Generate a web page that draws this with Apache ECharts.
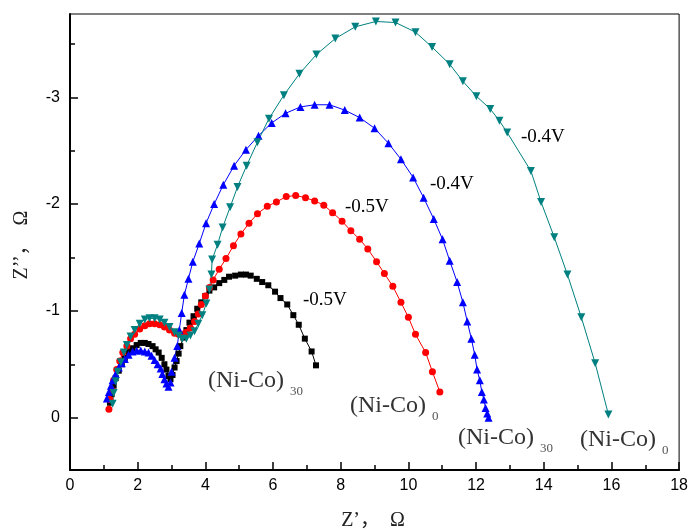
<!DOCTYPE html>
<html>
<head>
<meta charset="utf-8">
<script src="https://cdn.jsdelivr.net/npm/echarts@6/dist/echarts.min.js"></script>
<style>html,body{margin:0;padding:0;background:#fff}#c{width:691px;height:532px}</style>
</head>
<body>
<div id="c"></div>
<script>
// (Ni-Co)30 at -0.5V  (black squares)  [Z', Z'']
const niCo30_m05 = [[1.18,-0.14],[1.23,-0.22],[1.29,-0.30],[1.35,-0.37],[1.44,-0.44],[1.53,-0.50],[1.62,-0.56],[1.73,-0.62],[1.85,-0.65],[1.97,-0.68],[2.09,-0.70],[2.21,-0.70],[2.32,-0.69],[2.44,-0.67],[2.53,-0.64],[2.62,-0.61],[2.71,-0.56],[2.79,-0.50],[2.85,-0.45],[2.91,-0.39],[2.97,-0.36],[3.03,-0.40],[3.09,-0.47],[3.15,-0.53],[3.21,-0.60],[3.26,-0.67],[3.35,-0.75],[3.44,-0.82],[3.53,-0.89],[3.65,-0.95],[3.76,-1.02],[3.88,-1.08],[4.00,-1.14],[4.12,-1.19],[4.26,-1.22],[4.41,-1.26],[4.56,-1.29],[4.70,-1.32],[4.88,-1.33],[5.05,-1.34],[5.20,-1.34],[5.34,-1.33],[5.52,-1.30],[5.68,-1.27],[5.86,-1.24],[6.06,-1.18],[6.22,-1.12],[6.42,-1.06],[6.60,-0.96],[6.76,-0.87],[6.94,-0.74],[7.14,-0.62],[7.27,-0.49]];
// (Ni-Co)0 at -0.5V (red circles)
const niCo0_m05 = [[1.15,-0.08],[1.18,-0.17],[1.23,-0.26],[1.29,-0.35],[1.38,-0.45],[1.47,-0.53],[1.56,-0.61],[1.68,-0.67],[1.79,-0.74],[1.91,-0.78],[2.06,-0.83],[2.21,-0.86],[2.35,-0.88],[2.50,-0.88],[2.65,-0.87],[2.79,-0.85],[2.94,-0.82],[3.09,-0.79],[3.21,-0.78],[3.32,-0.78],[3.44,-0.80],[3.56,-0.84],[3.68,-0.90],[3.79,-0.97],[3.88,-1.06],[4.00,-1.14],[4.12,-1.22],[4.23,-1.29],[4.41,-1.39],[4.61,-1.49],[4.83,-1.61],[5.05,-1.72],[5.29,-1.82],[5.54,-1.91],[5.83,-1.98],[6.10,-2.02],[6.39,-2.07],[6.67,-2.08],[6.96,-2.06],[7.23,-2.03],[7.50,-1.99],[7.76,-1.92],[8.04,-1.84],[8.30,-1.75],[8.56,-1.67],[8.80,-1.58],[9.06,-1.46],[9.29,-1.35],[9.54,-1.23],[9.78,-1.08],[10.00,-0.94],[10.21,-0.78],[10.51,-0.61],[10.71,-0.43],[10.93,-0.24]];
// (Ni-Co)30 at -0.4V (blue up-triangles)
const niCo30_m04 = [[1.09,-0.18],[1.15,-0.24],[1.21,-0.30],[1.26,-0.35],[1.35,-0.41],[1.44,-0.47],[1.53,-0.51],[1.62,-0.55],[1.73,-0.59],[1.85,-0.62],[1.97,-0.63],[2.09,-0.63],[2.21,-0.62],[2.32,-0.61],[2.41,-0.58],[2.50,-0.54],[2.59,-0.50],[2.68,-0.46],[2.73,-0.41],[2.79,-0.36],[2.85,-0.32],[2.91,-0.29],[2.97,-0.33],[3.00,-0.43],[3.09,-0.56],[3.17,-0.67],[3.23,-0.82],[3.30,-0.98],[3.38,-1.15],[3.50,-1.30],[3.63,-1.46],[3.82,-1.63],[4.02,-1.82],[4.26,-2.00],[4.53,-2.18],[4.85,-2.36],[5.20,-2.51],[5.57,-2.64],[5.96,-2.76],[6.37,-2.85],[6.81,-2.91],[7.23,-2.93],[7.67,-2.93],[8.12,-2.88],[8.56,-2.81],[9.00,-2.71],[9.41,-2.57],[9.78,-2.42],[10.14,-2.25],[10.45,-2.06],[10.75,-1.86],[11.01,-1.67],[11.22,-1.47],[11.44,-1.27],[11.61,-1.08],[11.74,-0.90],[11.86,-0.74],[11.96,-0.59],[12.03,-0.45],[12.11,-0.35],[12.17,-0.24],[12.23,-0.17],[12.28,-0.09],[12.33,-0.04],[12.37,0.00]];
// (Ni-Co)0 at -0.4V (teal down-triangles)
const niCo0_m04 = [[1.26,-0.13],[1.29,-0.23],[1.35,-0.34],[1.41,-0.43],[1.50,-0.52],[1.59,-0.61],[1.68,-0.68],[1.79,-0.76],[1.91,-0.82],[2.06,-0.88],[2.21,-0.92],[2.35,-0.93],[2.50,-0.93],[2.65,-0.92],[2.79,-0.89],[2.94,-0.85],[3.09,-0.80],[3.21,-0.77],[3.32,-0.74],[3.44,-0.74],[3.56,-0.77],[3.68,-0.81],[3.79,-0.88],[3.91,-0.96],[4.03,-1.07],[4.12,-1.20],[4.18,-1.34],[4.20,-1.48],[4.36,-1.62],[4.51,-1.78],[4.73,-1.97],[4.95,-2.16],[5.22,-2.36],[5.54,-2.58],[5.88,-2.80],[6.32,-3.02],[6.78,-3.22],[7.28,-3.40],[7.84,-3.55],[8.43,-3.66],[9.04,-3.71],[9.62,-3.70],[10.21,-3.61],[10.70,-3.47],[11.22,-3.31],[11.61,-3.15],[12.01,-3.01],[12.42,-2.89],[12.69,-2.78],[12.92,-2.67],[13.62,-2.31],[13.92,-2.02],[14.31,-1.69],[14.70,-1.34],[15.11,-0.94],[15.52,-0.51],[15.91,-0.03]];

const xMinor = [1,3,5,7,9,11,13,15,17];
const yMajor = [-3,-2,-1,0];
const yMinor = [-3.5,-2.5,-1.5,-0.5];
const xName = 'Z’，  Ω';
const yName = 'Z’’，  Ω';

const chart = echarts.init(document.getElementById('c'), null, {renderer:'canvas'});
const tickFont = {fontFamily:'Liberation Sans, Arial, sans-serif', fontSize:16, color:'#000'};
const annFont = 'Liberation Serif, Times New Roman, serif';
const niFont = 'Liberation Serif, Noto Sans CJK SC, serif';

function ser(name, data, color, symbol, size, rot){
  return {name, type:'line', data, smooth:false, symbol, symbolSize:size, symbolRotate:rot||0,
    showAllSymbol:true, lineStyle:{color, width:1}, itemStyle:{color, borderWidth:0}, z:2};
}

function ann(text, x, y){
  return {type:'text', x, y, z:100, style:{text, font:'19px '+annFont, fill:'#000', align:'left', verticalAlign:'middle', backgroundColor:'#fff', padding:[0,0,0,2]}};
}
function ni(x, y, sub){
  return [
    {type:'text', x, y, z:100, style:{text:'(Ni-Co)', font:'24px '+niFont, fill:'#333', align:'left', verticalAlign:'middle'}},
    {type:'text', x:x+82, y:y+11, z:100, style:{text:sub, font:'13px '+niFont, fill:'#555', align:'left', verticalAlign:'middle'}}
  ];
}

chart.setOption({
  animation:false,
  backgroundColor:'#fff',
  grid:{left:70, right:9, top:14, bottom:62, containLabel:false, show:true, borderColor:'#000', borderWidth:1, backgroundColor:'transparent'},
  xAxis:[
    {type:'value', min:0, max:18, interval:2, position:'bottom',
      axisLine:{show:true, onZero:false, lineStyle:{color:'#000', width:2}},
      axisTick:{show:true, inside:true, length:8, lineStyle:{color:'#000', width:1.5}},
      axisLabel:Object.assign({margin:8}, tickFont),
      splitLine:{show:false}},
    {type:'value', min:0, max:18, position:'bottom', offset:0,
      axisLine:{show:false, onZero:false},
      axisTick:{show:true, inside:true, length:5, customValues:xMinor, lineStyle:{color:'#000', width:1.5}},
      axisLabel:{show:false},
      splitLine:{show:false}}
  ],
  yAxis:[
    {type:'value', min:-3.78, max:0.49, inverse:true, position:'left',
      axisLine:{show:true, onZero:false, lineStyle:{color:'#000', width:2}},
      axisTick:{show:true, inside:true, length:8, customValues:yMajor, lineStyle:{color:'#000', width:1.5}},
      axisLabel:Object.assign({margin:10, customValues:yMajor}, tickFont),
      splitLine:{show:false}},
    {type:'value', min:-3.78, max:0.49, inverse:true, position:'left', offset:0,
      axisLine:{show:false, onZero:false},
      axisTick:{show:true, inside:true, length:5, customValues:yMinor, lineStyle:{color:'#000', width:1.5}},
      axisLabel:{show:false},
      splitLine:{show:false}}
  ],
  series:[
    ser('(Ni-Co)30 -0.5V', niCo30_m05, '#000000', 'rect', 6),
    ser('(Ni-Co)0 -0.5V', niCo0_m05, '#ff0000', 'circle', 7),
    ser('(Ni-Co)30 -0.4V', niCo30_m04, '#0000ff', 'triangle', 8),
    ser('(Ni-Co)0 -0.4V', niCo0_m04, '#008080', 'triangle', 8, 180)
  ],
  graphic:[
    {type:'text', x:373, y:521, z:100, style:{text:xName, font:'20px '+niFont, fill:'#222', align:'center', verticalAlign:'middle'}},
    {type:'text', x:22, y:245, rotation:Math.PI/2, z:100, style:{text:yName, font:'20px '+niFont, fill:'#222', align:'center', verticalAlign:'middle'}},
    ann('-0.5V', 301, 300),
    ann('-0.5V', 343, 207),
    ann('-0.4V', 428, 184),
    ann('-0.4V', 519, 137),
    ...ni(208, 381, '30'),
    ...ni(350, 406, '0'),
    ...ni(458, 438, '30'),
    ...ni(580, 440, '0')
  ]
});
</script>
</body>
</html>
